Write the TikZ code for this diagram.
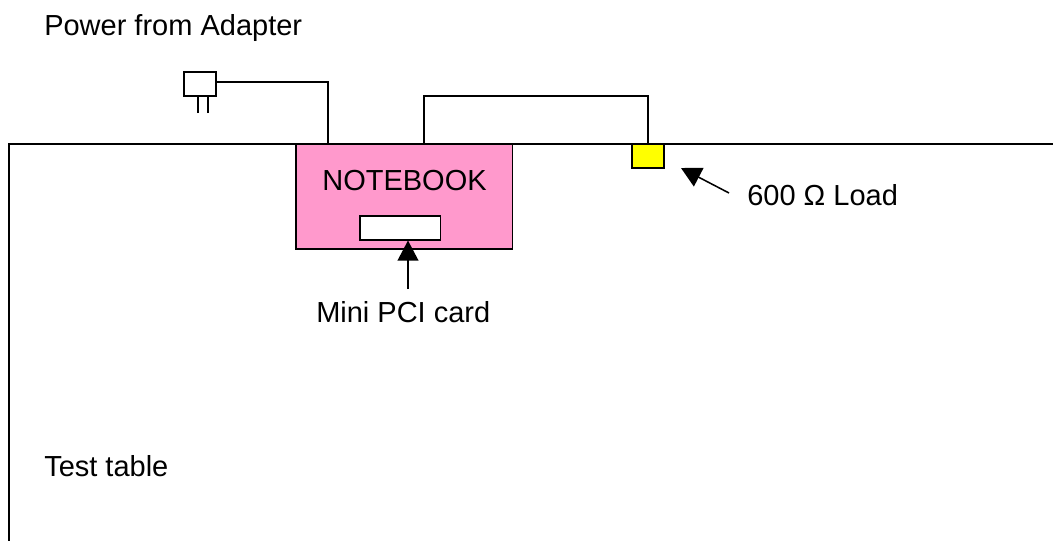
\documentclass[tikz,border=0pt]{standalone}
\usepackage{fontspec}
\setmainfont{Liberation Sans}
\usetikzlibrary{arrows.meta, positioning, calc}
\definecolor{notebookpink}{RGB}{255,153,204}
\definecolor{loadyellow}{RGB}{255,255,0}
\tikzset{
  boxpart/.style={draw=black,line width=1.15pt,inner sep=0pt,outer sep=0pt},
  wire/.style={draw=black,line width=1.15pt},
  callout/.style={line width=1.15pt,-{Triangle[width=15.5pt,length=15pt]}},
  caption/.style={anchor=base west,inner sep=0pt,font=\fontsize{21.75}{26}\selectfont}
}
\begin{document}
\begin{tikzpicture}[x=0.75pt,y=-0.75pt]
\useasboundingbox (0,0) rectangle (1053,540);
% Table edge
\coordinate (tableBL) at (9,541);
\coordinate (tableTL) at (9,144);
\coordinate (tableTR) at (1054,144);
\draw[wire] (tableBL) -- (tableTL) -- (tableTR);
% Notebook and card
\node[boxpart,fill=notebookpink,minimum width=162.4pt,minimum height=78.75pt] (notebook) at (404.25,196.5) {};
\node[boxpart,fill=white,minimum width=60.4pt,minimum height=18pt] (card) at (400.25,228) {};
\node[anchor=base,inner sep=0pt,font=\fontsize{21.75}{26}\selectfont] (notebooklabel) at (404.5,190) {NOTEBOOK};
% Load
\node[boxpart,fill=loadyellow,minimum width=24pt,minimum height=18pt] (load) at (648,156) {};
% Plug
\node[boxpart,minimum width=24pt,minimum height=18pt] (plug) at (200,84) {};
\coordinate (prongA) at (198,113);
\coordinate (prongB) at (208,113);
\draw[wire] (prongA) -- (plug.south -| prongA);
\draw[wire] (prongB) -- (plug.south -| prongB);
% Wires
\coordinate (plugout) at (216,82);
\coordinate (powerin) at (328,144);
\coordinate (loopout) at (424,144);
\coordinate (looptop) at (648,96);
\draw[wire] (plugout) -| (powerin);
\draw[wire] (loopout) |- (looptop) -- (load.north);
% Labels
\node[caption] (powerlabel) at (44,35) {Power from Adapter};
\node[caption] (loadlabel) at (747,205) {600 Ω Load};
\node[caption] (cardlabel) at (316,322) {Mini PCI card};
\node[caption] (tablelabel) at (44,476) {Test table};
% Arrows
\coordinate (cardtail) at (408,289);
\coordinate (cardtip) at (408,240.5);
\coordinate (loadtail) at (729,193);
\coordinate (loadtip) at (681,168);
\draw[callout] (cardtail) -- (cardtip);
\draw[callout] (loadtail) -- (loadtip);
\end{tikzpicture}
\end{document}
